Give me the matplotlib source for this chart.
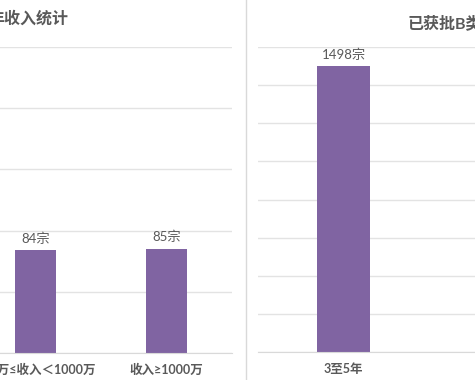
import numpy as np
import matplotlib
matplotlib.use("Agg")
import matplotlib.pyplot as plt
from matplotlib.lines import Line2D

plt.rcParams['font.family'] = ['Lato', 'Noto Sans CJK SC', 'DejaVu Sans']

# left chart: income groups
inc_labels = ['100万≤收入＜1000万', '收入≥1000万']
inc_counts = [84, 85]
inc_ticks = [0, 50, 100, 150, 200, 250]

# right chart: approved B class by years
yr_labels = ['3至5年']
yr_counts = [1498]
yr_ticks = [0, 200, 400, 600, 800, 1000, 1200, 1400, 1600]

W, H = 475, 380
purple = '#8064A2'
grid_c = '#e3e3e3'
txt_c = '#595959'

fig = plt.figure(figsize=(W / 100, H / 100), dpi=100)
fig.patch.set_facecolor('white')


def px_box(left, right, top, bottom):
    # pixel box -> figure fraction [l, b, w, h]
    return [left / W, 1 - bottom / H, (right - left) / W, (bottom - top) / H]


def style(ax, ticks):
    ax.set_ylim(ticks[0], ticks[-1])
    ax.set_yticks(ticks)
    ax.yaxis.grid(True, color=grid_c, linewidth=1)
    ax.set_axisbelow(True)
    ax.tick_params(axis='y', left=False, labelleft=False)
    ax.tick_params(axis='x', length=0, pad=8, labelsize=9, labelcolor=txt_c)
    for s in ['top', 'left', 'right']:
        ax.spines[s].set_visible(False)
    ax.spines['bottom'].set_color('#d9d9d9')
    for lab in ax.get_xticklabels():
        lab.set_fontweight('bold')


ax1 = fig.add_axes(px_box(-30, 232, 47, 353))
x1 = np.arange(len(inc_labels))
b1 = ax1.bar(x1, inc_counts, width=0.31, color=purple)
ax1.set_xlim(-0.5, 1.5)
ax1.set_xticks(x1)
ax1.set_xticklabels(inc_labels)
style(ax1, inc_ticks)
for rect, v in zip(b1, inc_counts):
    ax1.annotate(f'{v}宗', (rect.get_x() + rect.get_width() / 2, v),
                 xytext=(0, 4), textcoords='offset points',
                 ha='center', va='bottom', fontsize=9.5, color=txt_c)

ax2 = fig.add_axes(px_box(258, 600, 47, 352))
x2 = np.arange(len(yr_labels))
b2 = ax2.bar(x2, yr_counts, width=0.31, color=purple)
ax2.set_xlim(-0.5, 1.5)
ax2.set_xticks(x2)
ax2.set_xticklabels(yr_labels)
style(ax2, yr_ticks)
for rect, v in zip(b2, yr_counts):
    ax2.annotate(f'{v}宗', (rect.get_x() + rect.get_width() / 2, v),
                 xytext=(0, 4), textcoords='offset points',
                 ha='center', va='bottom', fontsize=9.5, color=txt_c)

# titles (cut off by the crop)
fig.text(68 / W, 1 - 19 / H, '年收入统计', ha='right', va='center',
         fontsize=11.5, fontweight='bold', color=txt_c)
fig.text(408 / W, 1 - 23 / H, '已获批B类', ha='left', va='center',
         fontsize=11.5, fontweight='bold', color=txt_c)

# separator between the two charts
fig.add_artist(Line2D([246 / W, 246 / W], [0, 1], color='#d9d9d9',
                      linewidth=1, transform=fig.transFigure))

fig.savefig('out.png', dpi=100)
